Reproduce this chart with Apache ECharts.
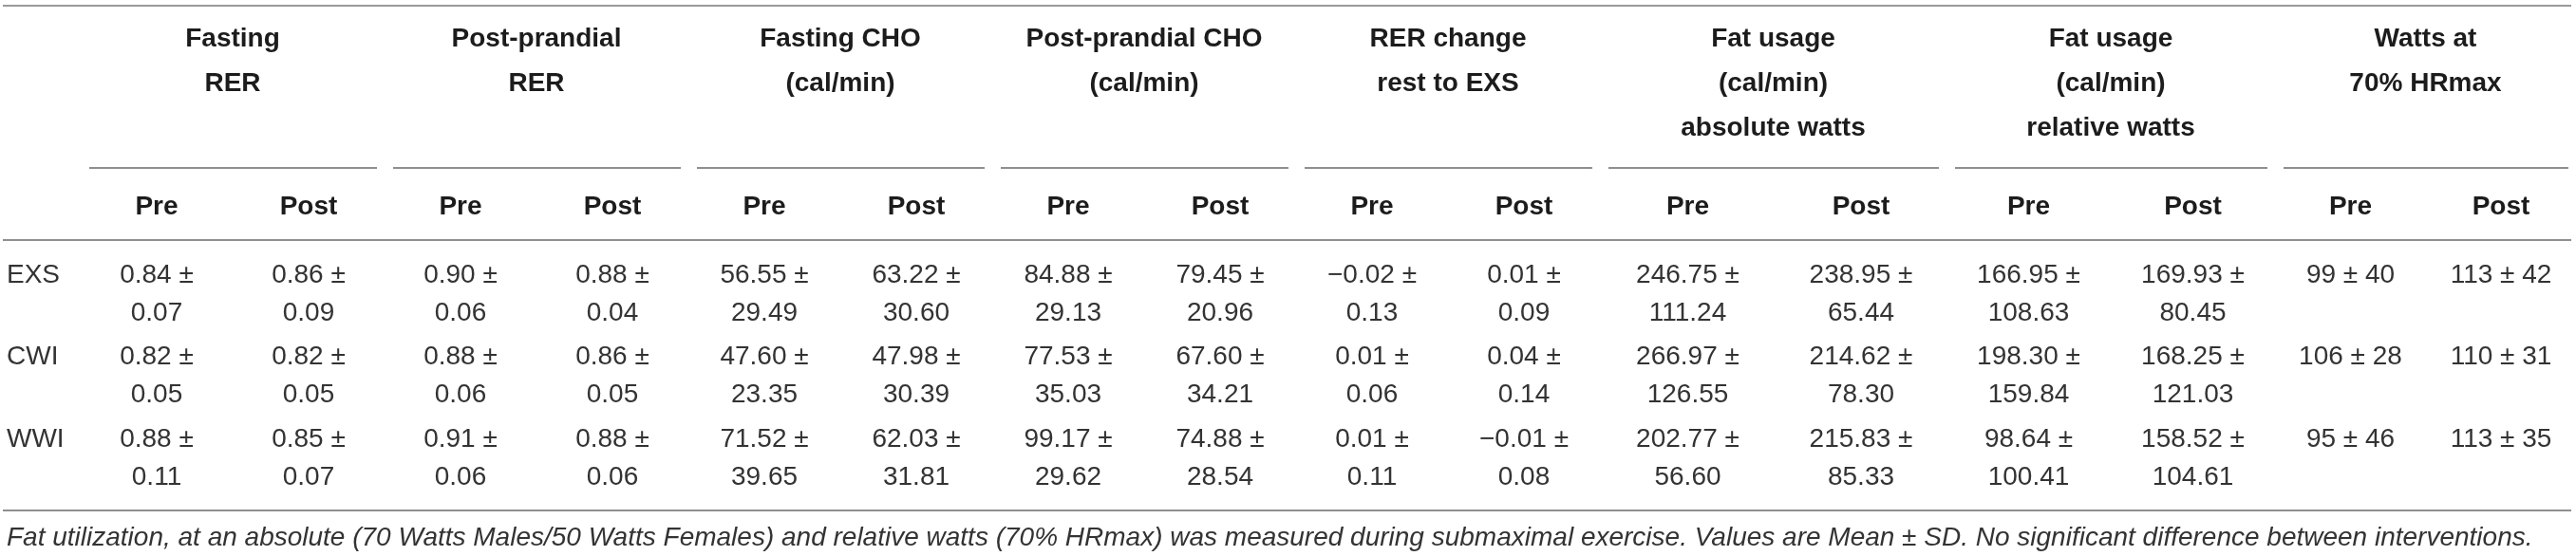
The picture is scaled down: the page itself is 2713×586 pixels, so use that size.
<!DOCTYPE html>
<html>
<head>
<meta charset="utf-8">
<title>table</title>
<script src="https://cdn.jsdelivr.net/npm/echarts@6/dist/echarts.min.js"></script>
<style>
html, body { margin: 0; padding: 0; background: #fff; }
#main { width: 2713px; height: 586px; }
</style>
</head>
<body>
<div id="main"></div>
<script type="text/javascript">
// header texts
var groupTitles = ['Fasting\nRER', 'Post-prandial\nRER', 'Fasting CHO\n(cal/min)', 'Post-prandial CHO\n(cal/min)',
    'RER change\nrest to EXS', 'Fat usage\n(cal/min)\nabsolute watts', 'Fat usage\n(cal/min)\nrelative watts', 'Watts at\n70% HRmax'];
var subHeads = ['Pre', 'Post'];
var rowNames = ['EXS', 'CWI', 'WWI'];

// mean and SD per intervention, 16 columns (8 measures x Pre/Post)
var exsMean = ['0.84', '0.86', '0.90', '0.88', '56.55', '63.22', '84.88', '79.45', '\u22120.02', '0.01', '246.75', '238.95', '166.95', '169.93', '99', '113'];
var exsSd   = ['0.07', '0.09', '0.06', '0.04', '29.49', '30.60', '29.13', '20.96', '0.13', '0.09', '111.24', '65.44', '108.63', '80.45', '40', '42'];
var cwiMean = ['0.82', '0.82', '0.88', '0.86', '47.60', '47.98', '77.53', '67.60', '0.01', '0.04', '266.97', '214.62', '198.30', '168.25', '106', '110'];
var cwiSd   = ['0.05', '0.05', '0.06', '0.05', '23.35', '30.39', '35.03', '34.21', '0.06', '0.14', '126.55', '78.30', '159.84', '121.03', '28', '31'];
var wwiMean = ['0.88', '0.85', '0.91', '0.88', '71.52', '62.03', '99.17', '74.88', '0.01', '\u22120.01', '202.77', '215.83', '98.64', '158.52', '95', '113'];
var wwiSd   = ['0.11', '0.07', '0.06', '0.06', '39.65', '31.81', '29.62', '28.54', '0.11', '0.08', '56.60', '85.33', '100.41', '104.61', '46', '35'];

var footnote = 'Fat utilization, at an absolute (70 Watts Males/50 Watts Females) and relative watts (70% HRmax) was measured during submaximal exercise. Values are Mean \u00b1 SD. No significant difference between interventions.';

// layout (pixels of the 2713 x 586 page)
var W = 2713, H = 586;
var colWidths = [85, 160, 160, 160, 160, 160, 160, 160, 160, 160, 160, 185, 180, 173, 173, 159, 158];
var FONT = '"Liberation Sans", Arial, sans-serif';

initTable();

function colEdges() {
    var e = [0];
    for (var i = 0; i < colWidths.length; i++) e.push(e[i] + colWidths[i]);
    return e;
}

function cellText(m, s) {
    // wrap like the original when "m ± s" does not fit the cell
    var c = document.createElement('canvas').getContext('2d');
    c.font = '28px ' + FONT;
    var one = m + ' \u00b1 ' + s;
    return c.measureText(one).width > 130 ? m + ' \u00b1\n' + s : one;
}

function initTable() {
    var chart = echarts.init(document.getElementById('main'));
    var edges = colEdges();
    var texts = [];
    var rules = [];

    // rules: [x1, x2, y, width, color]
    rules.push([3, 2708, 6, 2, '#9a9a9a']);
    rules.push([3, 2708, 253, 2, '#8f8f8f']);
    rules.push([3, 2708, 538, 2, '#8f8f8f']);

    // group titles + underlines + Pre/Post
    for (var g = 0; g < groupTitles.length; g++) {
        var l = edges[1 + g * 2], r = edges[3 + g * 2];
        texts.push([(l + r) / 2, 18, groupTitles[g], 'head']);
        rules.push([l + 9, r - 8, 177, 2, '#8f8f8f']);
        for (var k = 0; k < 2; k++) {
            var c = 1 + g * 2 + k;
            texts.push([(edges[c] + edges[c + 1]) / 2, 218, subHeads[k], 'sub']);
        }
    }

    // body
    var means = [exsMean, cwiMean, wwiMean];
    var sds = [exsSd, cwiSd, wwiSd];
    for (var i = 0; i < rowNames.length; i++) {
        var top = 270 + i * 86.5;
        texts.push([7, top, rowNames[i], 'rowname']);
        for (var j = 0; j < means[i].length; j++) {
            texts.push([(edges[j + 1] + edges[j + 2]) / 2, top, cellText(means[i][j], sds[i][j]), 'cell']);
        }
    }
    texts.push([7, 567, footnote, 'note']);

    var styles = {
        head: { font: 'bold 28px ' + FONT, fill: '#1c1c1c', align: 'center', verticalAlign: 'top', lineHeight: 47 },
        sub: { font: 'bold 28px ' + FONT, fill: '#1c1c1c', align: 'center', verticalAlign: 'middle', lineHeight: 34 },
        cell: { font: '28px ' + FONT, fill: '#333333', align: 'center', verticalAlign: 'top', lineHeight: 40 },
        rowname: { font: '28px ' + FONT, fill: '#333333', align: 'left', verticalAlign: 'top', lineHeight: 40 },
        note: { font: 'italic 28px ' + FONT, fill: '#333333', align: 'left', verticalAlign: 'middle', lineHeight: 34 }
    };

    var option = {
        backgroundColor: '#ffffff',
        animation: false,
        grid: { left: 0, right: 0, top: 0, bottom: 0 },
        xAxis: { type: 'value', min: 0, max: W, show: false },
        yAxis: { type: 'value', min: 0, max: H, inverse: true, show: false },
        series: [
            {
                type: 'custom',
                data: rules,
                renderItem: function (params, api) {
                    var a = api.coord([api.value(0), api.value(2)]);
                    var b = api.coord([api.value(1), api.value(2)]);
                    var d = rules[params.dataIndex];
                    return {
                        type: 'line',
                        shape: { x1: a[0], y1: a[1], x2: b[0], y2: b[1] },
                        style: { stroke: d[4], lineWidth: d[3] }
                    };
                }
            },
            {
                type: 'custom',
                data: texts,
                renderItem: function (params, api) {
                    var d = texts[params.dataIndex];
                    var p = api.coord([d[0], d[1]]);
                    var s = styles[d[3]];
                    return {
                        type: 'text',
                        x: p[0],
                        y: p[1],
                        style: {
                            text: d[2],
                            font: s.font,
                            fill: s.fill,
                            align: s.align,
                            verticalAlign: s.verticalAlign,
                            lineHeight: s.lineHeight
                        }
                    };
                }
            }
        ]
    };
    chart.setOption(option);
}
</script>
</body>
</html>
